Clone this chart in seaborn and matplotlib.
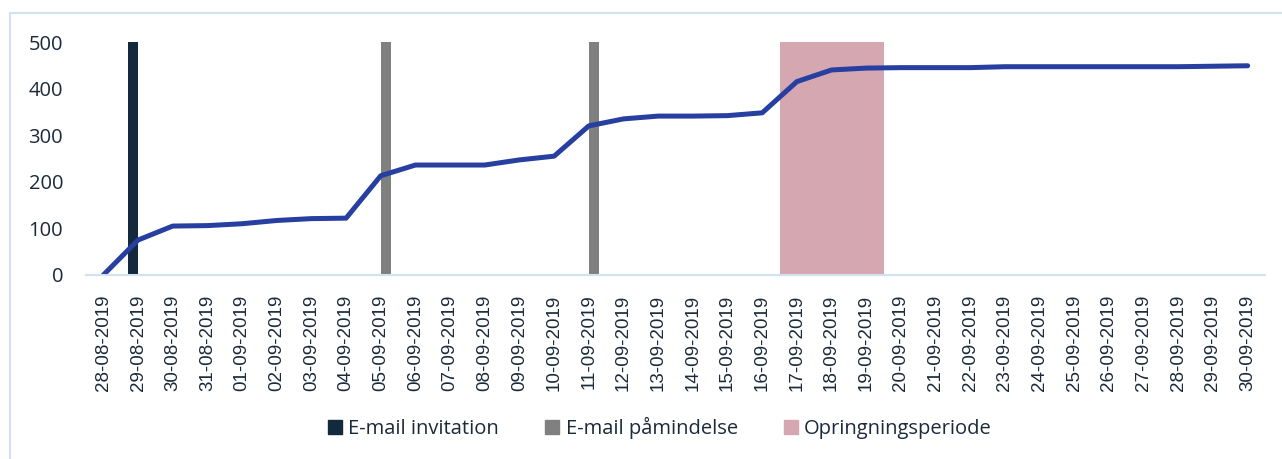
import matplotlib
matplotlib.use("Agg")
import matplotlib.pyplot as plt
import matplotlib.patches as mpatches
import numpy as np
import pandas as pd
import seaborn as sns

# Data
dates = pd.date_range("2019-08-28", "2019-09-30").strftime("%d-%m-%Y").tolist()
responses = [0, 75, 105, 106, 110, 117, 121, 122, 213, 236, 236, 236, 247, 255,
             320, 335, 341, 341, 342, 348, 415, 440, 444, 445, 445, 445, 447, 447,
             447, 447, 447, 447, 448, 449]
invitation_days = ["29-08-2019"]
reminder_days = ["05-09-2019", "11-09-2019"]
call_days = ["17-09-2019", "18-09-2019", "19-09-2019"]
bar_height = 500

text_col = "#1b2a3b"
axis_col = "#d3e2f1"
c_inv = "#13293d"
c_rem = "#808080"
c_call = "#d5a8b1"
c_line = "#263fa0"

sns.set_style("white")
plt.rcParams["font.family"] = ["Open Sans", "DejaVu Sans"]

df = pd.DataFrame({"date": dates, "responses": responses})
df["pos"] = np.arange(len(df))
pos = dict(zip(df["date"], df["pos"]))

fig = plt.figure(figsize=(12.82, 4.59), dpi=100)
ax = fig.add_axes([86 / 1282, 1 - 275 / 459, (1265 - 86) / 1282, (275 - 42) / 459])

# event bars
bw = 0.29
ax.bar([pos[d] - bw / 2 for d in invitation_days], bar_height, width=bw, color=c_inv,
       linewidth=0, zorder=2)
ax.bar([pos[d] + bw / 2 for d in reminder_days], bar_height, width=bw, color=c_rem,
       linewidth=0, zorder=2)
ax.bar([pos[d] for d in call_days], bar_height, width=1.0, color=c_call,
       linewidth=0, edgecolor="none", zorder=1)

sns.lineplot(data=df, x="pos", y="responses", ax=ax, color=c_line, linewidth=3.6,
             zorder=3, solid_joinstyle="round", solid_capstyle="round")

ax.set_xlim(-0.5, len(dates) - 0.5)
ax.set_ylim(0, 500)
ax.set_yticks([0, 100, 200, 300, 400, 500])
ax.set_xticks(df["pos"])
ax.set_xticklabels(dates, rotation=90, fontsize=13.5, color=text_col,
                   family=["Liberation Sans", "DejaVu Sans"])
ax.set_xticks(np.arange(len(dates) + 1) - 0.5, minor=True)
ax.tick_params(axis="x", which="major", length=0, pad=14)
ax.tick_params(axis="x", which="minor", length=6, width=1.5, color=axis_col)
ax.tick_params(axis="y", length=0, labelsize=14.5, labelcolor=text_col, pad=16.5)
ax.set_xlabel("")
ax.set_ylabel("")
for s in ["top", "right", "left"]:
    ax.spines[s].set_visible(False)
ax.spines["bottom"].set_color(axis_col)
ax.spines["bottom"].set_linewidth(1.5)
ax.spines["bottom"].set_zorder(4)

# chart area border
fig.patches.append(mpatches.Rectangle((10 / 1282, -0.1), 1.2, 1.1 - 13 / 459,
                                      transform=fig.transFigure, fill=False,
                                      edgecolor=axis_col, linewidth=1.5))

handles = [mpatches.Patch(color=c_inv, label="E-mail invitation"),
           mpatches.Patch(color=c_rem, label="E-mail påmindelse"),
           mpatches.Patch(color=c_call, label="Opringningsperiode")]
leg = fig.legend(handles=handles, loc="center", bbox_to_anchor=(660 / 1282, 1 - 428 / 459),
                 ncol=3, frameon=False, fontsize=14.5, handlelength=0.7, handleheight=0.7,
                 handletextpad=0.3, columnspacing=2.3)
for t in leg.get_texts():
    t.set_color(text_col)

fig.savefig("out.png", dpi=100)
